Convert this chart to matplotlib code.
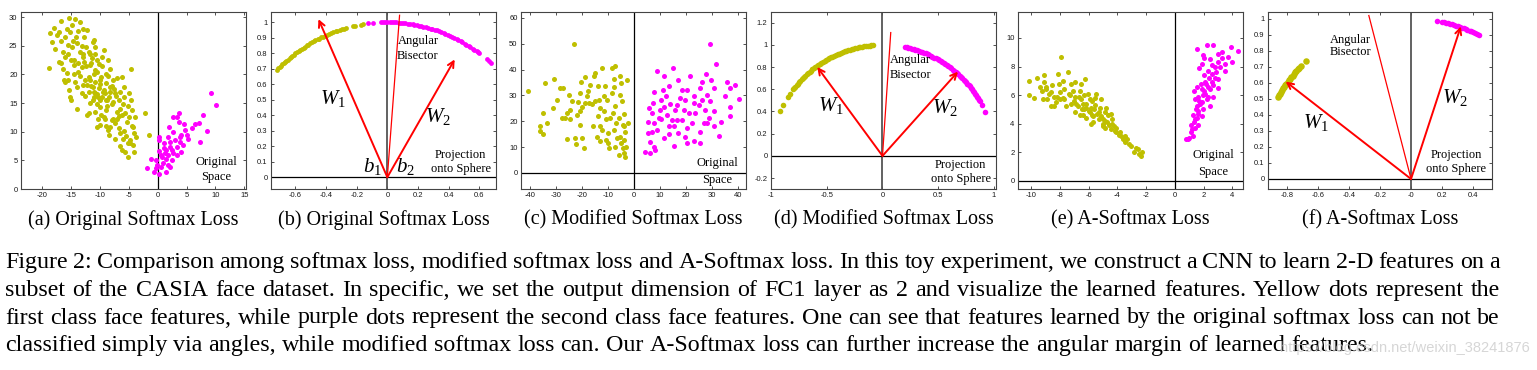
import matplotlib
matplotlib.use("Agg")
import matplotlib.pyplot as plt
import numpy as np
from matplotlib.ticker import FuncFormatter

plt.rcParams['mathtext.fontset'] = 'custom'
plt.rcParams['mathtext.it'] = 'Liberation Serif:italic'
plt.rcParams['mathtext.rm'] = 'Liberation Serif'

yellow = "#bfbf00"
magenta = "#ff00ff"
W, H = 1537, 370

# (a) original softmax, original space
a_yel_x = [-18.8,-18.7,-18.0,-18.4,-17.8,-16.8,-17.1,-16.7,-16.5,-17.1,-16.8,-16.2,-16.1,-15.3,-15.2,-14.9,-14.3,-13.5,-13.9,-14.2,
           -14.7,-14.9,-15.5,-15.1,-14.6,-15.3,-15.2,-15.1,-14.0,-14.3,-14.0,-13.2,-12.3,-12.4,-12.9,-13.2,-13.5,-12.6,-12.0,-12.3,
           -12.0,-11.3,-10.9,-11.4,-11.7,-10.9,-10.6,-11.3,-10.9,-10.3,-11.2,-10.6,-10.0,-10.3,-10.6,-9.4,-9.7,-10.0,-9.4,-9.7,
           -9.0,-8.9,-9.2,-8.6,-8.3,-8.6,-8.3,-7.7,-7.4,-8.0,-7.7,-8.3,-8.4,-7.1,-6.8,-6.5,-7.1,-6.8,-7.4,-6.2,
           -5.8,-5.9,-5.7,-5.4,-6.1,-6.2,-5.7,-5.1,-4.7,-4.9,-4.5,-3.9,-4.3,-4.2,-3.7,-4.8,-4.1,-2.2,-1.6,
           -11.0,-10.5,-10.0,-9.5,-11.5,-12.0,-9.0,-8.5,-10.0,-11.0,-12.5,-13.0,-13.5,-11.8,-10.2,-9.0,-8.0,-7.5,-6.0,-7.0,
           -8.0,-9.0,-5.0,-4.5,-6.5,-5.5,-4.8,-14.5,-13.8,-15.8,-16.0,-12.8,-11.0,-10.8,-12.2,-11.7,-10.8,-9.8,-8.8,-7.8,
           -16.0,-15.6,-14.0,-13.2,-12.0,-11.5,-12.8,-13.8,-10.5,-9.6,-9.8,-10.8,-11.8,-9.2,-10.2,-11.0,-12.6,-13.0,-8.2,-8.8,
           -7.2,-6.6,-6.2,-7.4,-5.2,-4.6,-6.8,-9.4,-10.0,-8.6,-5.8,-5.2,-6.5,-4.3,-15.5,-16.4,-14.6,-17.5,-15.8,-13.0]
a_yel_y = [21.2,27.3,28.1,25.7,24.5,29.3,27.4,25.9,24.0,22.2,22.0,19.0,18.7,29.9,27.4,28.6,29.7,29.1,27.6,26.5,
           25.8,24.8,23.6,22.6,21.6,17.2,16.1,15.5,14.0,18.7,17.8,16.7,27.7,24.8,23.6,21.3,19.8,19.0,19.6,12.9,
           13.2,25.6,24.8,22.8,21.6,20.7,22.5,17.8,16.7,16.1,15.5,14.9,14.3,12.3,10.9,24.2,23.1,18.4,17.2,16.1,
           15.5,13.8,12.3,22.5,21.0,19.7,17.8,19.0,16.7,14.9,12.3,10.9,9.4,19.3,15.5,14.0,12.3,10.6,8.8,19.6,
           17.8,16.1,13.2,11.7,8.8,6.8,6.5,5.6,20.9,16.7,13.8,12.6,10.9,9.7,9.1,8.0,6.5,13.3,9.4,
           17.0,16.5,15.5,17.0,18.0,17.0,18.5,16.0,19.0,20.0,21.5,23.0,24.0,23.5,21.8,20.0,18.0,17.5,14.8,13.5,
           12.0,11.0,12.5,11.0,9.8,9.3,8.5,22.5,20.5,20.2,23.0,26.5,26.0,23.5,18.2,15.0,13.5,13.0,14.5,15.2,
           26.5,25.2,25.5,25.0,24.0,22.0,22.2,22.0,20.5,21.5,19.6,18.6,19.0,16.8,17.6,16.0,16.2,18.2,17.0,15.6,
           16.2,17.0,13.0,11.6,14.5,15.5,12.8,12.6,11.2,10.3,10.2,8.0,7.5,7.6,19.0,21.0,20.0,26.8,28.0,28.0]
a_mag_x = [9.2,10.1,7.9,7.1,6.4,7.3,8.5,6.0,5.0,4.1,3.7,2.7,3.3,4.6,3.6,2.0,2.7,3.9,1.8,0.3,
           0.3,1.0,2.1,3.3,4.4,1.5,2.7,0.2,0.8,1.5,2.4,3.3,-1.1,-0.3,0.9,1.7,0.6,-0.3,-1.8,-0.6,
           0.3,1.5,-0.1,1.2,1.8,3.9,5.3,4.7,2.1,3.0,1.0,2.4,4.1,0.5,2.1]
a_mag_y = [16.8,14.6,12.9,11.5,11.4,8.2,10.1,10.7,9.4,9.4,13.2,12.6,12.6,11.4,11.7,10.9,10.0,9.1,9.1,9.1,
           8.5,8.0,7.4,7.4,7.7,6.8,6.2,6.7,5.6,5.3,5.0,5.9,5.3,5.0,4.5,4.2,3.9,3.6,3.6,3.0,
           2.7,3.0,4.2,6.2,5.9,8.2,8.8,10.3,8.2,8.5,7.1,6.8,6.5,5.9,3.9]

# (b) original softmax, projected onto the unit circle (angles in degrees)
b_yel_deg = [136.0,135.4,134.6,134.1,133.3,132.7,131.8,131.3,130.6,129.7,129.2,128.3,127.8,126.9,126.3,125.4,124.8,124.1,123.2,122.6,
             121.7,121.1,120.2,119.6,118.6,118.0,117.1,116.5,115.5,114.9,113.9,113.2,112.4,111.4,110.7,109.7,109.0,108.0,107.3,106.4,
             105.7,103.0,102.2,100.0,99.2]
b_mag_deg = [97.2,95.4,92.4,91.7,90.7,90.1,89.1,88.4,87.4,86.7,85.7,85.0,84.0,83.3,82.3,81.6,80.5,79.9,78.8,78.1,
             77.1,76.4,75.3,74.7,73.6,72.9,71.8,71.2,70.1,69.4,68.3,67.7,66.6,65.9,64.8,64.2,63.1,62.4,61.3,60.7,
             59.6,58.9,57.8,57.2,56.1,55.4,54.3,53.7,53.1,49.6,48.4,47.3]
b_w1 = (-0.45, 1.02)
b_w2 = (0.44, 0.76)
b_bis = (0.08, 1.045)

# (c) modified softmax, original space
c_yel_x = [-40.9,-34.2,-31.0,-36.4,-35.1,-36.1,-35.1,-33.6,-31.3,-29.7,-28.7,-27.4,-27.8,-26.5,-25.2,-25.9,-24.6,-24.6,-25.9,-23.0,
           -22.6,-22.3,-21.7,-22.0,-20.7,-20.5,-20.1,-21.0,-21.0,-20.1,-19.2,-18.8,-18.1,-17.5,-17.9,-16.8,-16.2,-15.6,-15.8,-14.9,
           -14.0,-13.6,-13.0,-14.0,-13.2,-14.3,-13.0,-11.1,-10.4,-11.4,-10.7,-10.2,-9.8,-10.2,-12.3,-8.5,-7.2,-7.8,-7.6,-8.5,
           -7.2,-8.1,-6.8,-7.8,-6.6,-7.2,-5.9,-5.3,-5.0,-5.5,-4.6,-4.0,-4.2,-3.7,-3.3,-3.7,-3.2,-4.0,-3.3,-2.7,
           -2.4,-5.9,-9.1,-12.3,-10.7,-5.3,-5.0,-4.2,-18.8,-14.9,-11.7,-23.9]
c_yel_y = [31.9,35.0,36.3,18.2,23.4,16.4,15.0,19.5,25.1,28.3,32.8,32.8,21.2,21.2,30.3,23.1,24.4,20.8,13.1,50.0,
           13.4,11.2,27.3,22.5,30.9,35.4,25.7,23.8,18.6,13.4,9.6,37.1,29.6,27.0,31.9,34.1,26.8,37.6,18.0,38.8,
           33.6,28.3,25.1,21.9,18.2,14.1,12.2,33.8,28.3,23.8,20.8,15.4,9.6,11.5,40.6,40.6,41.3,36.3,33.2,30.9,
           26.0,23.1,19.5,16.7,13.4,10.2,7.0,37.4,34.8,30.3,27.7,22.9,18.6,18.2,16.0,12.8,10.2,7.6,6.3,36.1,
           19.3,21.2,21.2,16.7,12.8,13.8,11.5,9.6,27.0,27.7,29.6,27.7]
c_mag_x = [29.2,31.8,40.6,39.1,37.2,35.9,35.2,37.2,36.9,33.6,32.6,30.7,29.7,27.9,26.2,25.6,26.2,28.2,29.5,27.5,
           28.8,26.9,25.6,23.7,23.3,21.7,20.5,19.8,21.1,22.4,20.5,18.5,17.9,16.8,16.0,16.6,15.3,17.0,15.0,13.4,
           12.5,13.8,12.7,13.4,13.4,15.3,11.4,11.2,10.4,9.9,10.4,11.4,8.9,7.6,7.3,6.9,7.6,6.9,7.8,8.2,
           5.7,5.3,5.3,6.0,4.4,6.3,8.9,9.5,16.6,19.2,23.0,24.9,30.7,25.6,20.5,23.0,28.2,30.7,18.5,19.8,
           14.7,11.4]
c_mag_y = [50.0,42.3,28.6,34.1,32.8,35.4,29.6,25.7,22.1,19.9,14.4,32.8,36.1,38.4,35.4,32.8,28.3,30.3,27.7,24.4,
           21.2,19.3,16.0,23.1,27.0,37.4,32.2,28.3,23.1,19.3,17.3,32.2,29.0,36.1,24.4,20.6,18.2,15.6,40.6,33.5,
           29.6,26.8,22.5,18.0,15.1,10.5,37.4,32.2,28.3,24.4,20.8,13.4,39.3,31.2,27.0,23.1,19.3,16.0,10.2,8.9,
           25.1,19.9,15.4,11.8,8.3,7.6,16.7,21.2,26.4,24.4,29.6,26.4,23.8,11.5,11.5,12.2,19.3,18.0,20.6,14.1,
           20.6,25.7]

# (d) modified softmax, projected
d_yel_deg = [156.2,152.9,147.9,146.1,143.3,142.2,141.4,140.3,139.5,138.4,137.6,136.5,135.7,134.6,133.8,132.7,131.9,130.8,130.0,128.9,
             128.1,127.0,126.2,125.1,124.3,123.2,122.4,121.3,120.5,119.4,118.6,117.5,116.7,115.6,114.8,113.7,112.9,111.8,111.0,109.9,
             109.1,108.0,107.2,106.1,105.3,104.2,103.4,102.3,101.5,100.4,99.6,98.5,97.7,96.6,95.8,94.7]
d_mag_deg = [78.5,77.5,76.7,75.6,74.8,73.7,72.9,71.8,71.0,69.9,69.1,68.0,67.2,66.1,65.3,64.2,63.4,62.3,61.5,60.4,
             59.6,58.5,57.7,56.6,55.8,54.7,53.9,52.8,52.0,50.9,50.1,49.0,48.2,47.1,46.3,45.2,44.4,43.3,42.5,41.4,
             40.6,39.5,38.7,37.6,36.8,35.7,34.9,33.8,33.0,31.9,31.1,30.2,29.4,27.1,23.1]
d_w1 = (-0.585, 0.80)
d_w2 = (0.677, 0.758)
d_bis = (0.074, 1.11)

# (e) A-Softmax, original space
e_yel_x = [-10.13,-10.18,-9.83,-9.62,-9.43,-9.13,-9.09,-9.27,-8.97,-9.20,-8.90,-8.74,-8.57,-8.39,-8.43,-8.15,-8.04,-7.92,-7.80,-7.69,
           -7.97,-7.57,-7.45,-7.22,-7.34,-6.99,-6.94,-6.99,-6.87,-6.64,-6.57,-6.48,-6.34,-6.17,-6.17,-6.06,-5.94,-5.87,-5.78,-5.71,
           -5.59,-5.54,-5.40,-5.31,-5.24,-5.12,-5.01,-4.89,-4.85,-4.66,-4.61,-4.47,-4.38,-4.24,-4.08,-3.91,-3.73,-3.61,-3.45,-3.21,
           -3.03,-2.84,-2.68,-2.52,-2.33,-2.28,-6.52,-6.29,-5.47,-5.12,-4.77,-4.47,-6.76,-6.41,-5.82,-7.22,-7.69,-8.62,-8.27,-6.0,
           -5.7,-6.3,-5.0,-4.2,-3.6,
           -9.0,-8.6,-8.2,-7.8,-7.4,-7.0,-6.7,-6.2,-5.9,-5.6,-5.3,-5.0,-4.7,-4.4,-4.1,-3.8,-3.5,-6.6,-7.1,-8.0,
           -6.4,-5.8,-4.9,-3.3,-2.6]
e_yel_y = [7.0,6.0,5.8,7.2,6.6,6.9,7.4,6.3,6.6,5.7,5.7,6.1,6.7,5.9,5.2,7.5,6.8,8.67,7.0,6.4,
           5.7,5.2,7.6,6.8,6.0,6.9,5.9,4.8,5.4,6.3,5.7,5.0,6.0,5.4,4.4,6.1,5.7,5.1,4.6,4.1,
           5.8,5.3,4.7,4.3,5.1,4.5,3.8,4.8,4.2,4.6,3.9,3.6,4.3,3.8,3.4,3.2,3.1,2.9,2.7,2.6,
           2.4,2.0,2.3,1.9,1.7,2.0,6.8,7.1,6.1,5.7,5.1,4.7,5.2,4.6,4.0,5.4,5.7,5.2,5.5,4.9,
           4.5,5.0,4.0,3.5,3.0,
           6.4,6.2,5.9,5.8,6.1,5.6,5.9,5.1,4.8,5.0,4.8,4.3,4.1,4.0,3.7,3.4,3.1,4.6,6.3,6.2,
           5.4,5.6,3.7,2.9,2.2]
e_mag_x = [0.75,0.93,1.12,1.28,1.16,1.35,1.51,1.28,1.58,1.40,1.63,1.51,1.86,1.75,1.98,1.86,2.21,2.10,1.68,1.86,
           1.51,2.21,2.68,1.98,2.45,2.33,2.56,2.45,2.68,2.45,2.80,3.03,3.14,3.26,3.49,3.68,3.91,4.38,3.96,3.49,
           3.03,3.03,2.10,2.03,1.35,2.33,1.51,1.98,1.63,1.40,2.68,2.56,
           1.0,1.2,1.4,1.6,1.7,1.9,2.0,2.2,2.4,2.6,2.8,3.0,1.8,2.3,1.5,2.9,3.3,2.0]
e_mag_y = [2.93,2.9,3.4,3.1,3.9,4.1,4.4,4.6,4.9,5.7,5.9,6.6,6.4,5.4,5.0,4.5,5.7,6.9,7.9,8.2,
           9.2,9.5,9.5,8.8,8.5,7.7,6.9,6.4,5.9,5.2,7.2,8.9,8.0,8.6,8.2,8.7,9.4,9.1,8.3,7.7,
           7.1,6.5,6.1,7.4,6.3,6.6,5.2,6.0,3.9,3.7,6.7,8.1,
           3.0,3.6,4.3,4.7,5.6,5.5,6.3,6.8,7.2,7.5,8.0,8.3,6.8,5.9,5.0,7.6,9.0,8.6]

# (f) A-Softmax, projected
f_yel_deg = [149.3,148.5,147.9,147.0,146.4,145.6,144.9,144.1,143.5,142.7,142.0,141.2,140.6,139.8,139.1,138.3,137.7,136.9,136.2,135.4,132.8]
f_mag_deg = [80.2,78.5,77.7,77.0,76.1,75.5,74.6,73.9,73.1,72.5,71.6,70.9,70.2,69.4,68.7,67.8,67.1,66.4,65.5,64.7,63.9]
f_w1 = (-0.808, 0.608)
f_w2 = (0.321, 0.952)
f_bis = (-0.272, 1.02)

titles = ["(a) Original Softmax Loss", "(b) Original Softmax Loss", "(c) Modified Softmax Loss",
          "(d) Modified Softmax Loss", "(e) A-Softmax Loss", "(f) A-Softmax Loss"]

caption = [
    "Figure 2: Comparison among softmax loss, modified softmax loss and A-Softmax loss. In this toy experiment, we construct a CNN to learn 2-D features on a",
    "subset of the CASIA face dataset. In specific, we set the output dimension of FC1 layer as 2 and visualize the learned features. Yellow dots represent the",
    "first class face features, while purple dots represent the second class face features. One can see that features learned by the original softmax loss can not be",
    "classified simply via angles, while modified softmax loss can. Our A-Softmax loss can further increase the angular margin of learned features.",
]

fig = plt.figure(figsize=(W / 100, H / 100), dpi=100)

boxes = [(21, 246), (271, 496), (521, 746), (771, 996), (1018, 1243), (1268, 1492)]
top, bottom = 12, 189

fmt = FuncFormatter(lambda v, p: ("%g" % round(v, 3)).replace("\u2212", "-"))


def make_ax(i, xlim, ylim, xticks, yticks):
    l, r = boxes[i]
    ax = fig.add_axes([l / W, 1 - bottom / H, (r - l) / W, (bottom - top) / H])
    ax.set_xlim(xlim)
    ax.set_ylim(ylim)
    ax.set_xticks(xticks)
    ax.set_yticks(yticks)
    ax.xaxis.set_major_formatter(fmt)
    ax.yaxis.set_major_formatter(fmt)
    ax.tick_params(direction='in', length=2.5, width=0.6, top=True, right=True,
                   labelsize=5.5, pad=2.5, colors='#333333', labelcolor='#1a1a1a')
    for lab in ax.get_xticklabels() + ax.get_yticklabels():
        lab.set_family('Liberation Sans')
    for s in ax.spines.values():
        s.set_color('#444444')
        s.set_linewidth(0.8)
    ax.text(0.5, -0.175, titles[i], transform=ax.transAxes, ha='center', va='center',
            fontsize=14.5, family='Liberation Serif')
    return ax


def serif(ax, x, y, s, size=9):
    ax.text(x, y, s, ha='center', va='center', fontsize=size, family='Liberation Serif', zorder=5)


def arrows(ax, w1, w2, bis):
    for tip in (w1, w2):
        ax.annotate('', xy=tip, xytext=(0, 0),
                    arrowprops=dict(arrowstyle='->', color='red', lw=1.4, mutation_scale=11,
                                    shrinkA=0, shrinkB=0), zorder=4)
    ax.plot([0, bis[0]], [0, bis[1]], color='red', lw=0.9, zorder=4)


def arc(ax, deg, color, s=12):
    t = np.radians(deg)
    ax.scatter(np.cos(t), np.sin(t), s=s, color=color, linewidths=0, zorder=3)


# (a)
ax = make_ax(0, (-23.7, 15.3), (0, 30.9), range(-20, 16, 5), range(0, 31, 5))
ax.axvline(0, color='black', lw=0.9)
ax.scatter(a_yel_x, a_yel_y, s=13, color=yellow, linewidths=0, zorder=3)
ax.scatter(a_mag_x, a_mag_y, s=13, color=magenta, linewidths=0, zorder=3)
serif(ax, 10.2, 4.75, "Original")
serif(ax, 10.2, 2.1, "Space")

# (b)
ax = make_ax(1, (-0.76, 0.71), (-0.076, 1.066), np.arange(-0.6, 0.61, 0.2), np.arange(0, 1.01, 0.1))
ax.axvline(0, color='#555555', lw=1.3)
ax.axhline(0, color='black', lw=0.9)
arc(ax, b_yel_deg, yellow)
arc(ax, b_mag_deg, magenta)
arrows(ax, b_w1, b_w2, b_bis)
serif(ax, -0.355, 0.51, r'$\mathit{W_1}$', 15)
serif(ax, 0.33, 0.39, r'$\mathit{W_2}$', 15)
serif(ax, -0.1, 0.07, r'$\mathit{b_1}$', 15)
serif(ax, 0.117, 0.07, r'$\mathit{b_2}$', 15)
serif(ax, 0.2, 0.88, "Angular")
serif(ax, 0.2, 0.785, "Bisector")
serif(ax, 0.48, 0.145, "Projection")
serif(ax, 0.48, 0.05, "onto Sphere")

# (c)
ax = make_ax(2, (-43.6, 43.2), (-6.2, 62.3), range(-40, 41, 10), range(0, 61, 10))
ax.axvline(0, color='black', lw=0.9)
ax.axhline(0, color='black', lw=0.9)
ax.scatter(c_yel_x, c_yel_y, s=13, color=yellow, linewidths=0, zorder=3)
ax.scatter(c_mag_x, c_mag_y, s=13, color=magenta, linewidths=0, zorder=3)
serif(ax, 32, 3.7, "Original")
serif(ax, 32, -2.8, "Space")

# (d)
ax = make_ax(3, (-0.99, 1.018), (-0.298, 1.295), [-1, -0.5, 0, 0.5, 1], np.arange(-0.2, 1.21, 0.2))
ax.axvline(0, color='#555555', lw=1.3)
ax.axhline(0, color='black', lw=0.9)
arc(ax, d_yel_deg, yellow, 16)
arc(ax, d_mag_deg, magenta, 16)
arrows(ax, d_w1, d_w2, d_bis)
serif(ax, -0.46, 0.45, r'$\mathit{W_1}$', 15)
serif(ax, 0.56, 0.44, r'$\mathit{W_2}$', 15)
serif(ax, 0.25, 0.86, "Angular")
serif(ax, 0.25, 0.73, "Bisector")
serif(ax, 0.7, -0.08, "Projection")
serif(ax, 0.7, -0.205, "onto Sphere")

# (e)
ax = make_ax(4, (-10.93, 4.75), (-0.58, 11.82), range(-10, 5, 2), range(0, 11, 2))
ax.axvline(0, color='black', lw=0.9)
ax.axhline(0, color='black', lw=0.9)
ax.scatter(e_yel_x, e_yel_y, s=13, color=yellow, linewidths=0, zorder=3)
ax.scatter(e_mag_x, e_mag_y, s=13, color=magenta, linewidths=0, zorder=3)
serif(ax, 2.67, 1.8, "Original")
serif(ax, 2.67, 0.63, "Space")

# (f)
ax = make_ax(5, (-0.922, 0.522), (-0.0625, 1.042), np.arange(-0.8, 0.41, 0.2), np.arange(0, 1.01, 0.1))
ax.axvline(0, color='#555555', lw=1.3)
ax.axhline(0, color='black', lw=0.9)
arc(ax, f_yel_deg, yellow, 22)
arc(ax, f_mag_deg, magenta, 16)
arrows(ax, f_w1, f_w2, f_bis)
serif(ax, -0.61, 0.35, r'$\mathit{W_1}$', 15)
serif(ax, 0.28, 0.51, r'$\mathit{W_2}$', 15)
serif(ax, -0.39, 0.87, "Angular")
serif(ax, -0.39, 0.79, "Bisector")
serif(ax, 0.29, 0.15, "Projection")
serif(ax, 0.29, 0.06, "onto Sphere")

# caption, justified like the paper
r = fig.canvas.get_renderer()
probe = fig.text(0, 0, caption[3], fontsize=10, family='Liberation Serif')
size = 10 * 1365 / probe.get_window_extent(r).width
probe.remove()
sp1 = fig.text(0, 0, "a a", fontsize=size, family='Liberation Serif')
sp2 = fig.text(0, 0, "aa", fontsize=size, family='Liberation Serif')
space = sp1.get_window_extent(r).width - sp2.get_window_extent(r).width
sp1.remove()
sp2.remove()

x0, x1 = 5, 1500
baselines = [268, 296, 323.5, 351]
for k, line in enumerate(caption):
    words = line.split(' ')
    txts = [fig.text(0, 1 - baselines[k] / H, w, fontsize=size, family='Liberation Serif',
                     va='baseline', ha='left') for w in words]
    widths = [t.get_window_extent(r).width for t in txts]
    gap = (x1 - x0 - sum(widths)) / (len(words) - 1) if k < 3 else space
    x = x0
    for t, wd in zip(txts, widths):
        t.set_x(x / W)
        x += wd + gap

# faint blog watermark lying over the last caption line, as in the source image
fig.text(1530 / W, 1 - 352 / H, "https://blog.csdn.net/weixin_38241876", fontsize=10.5,
         family='Liberation Sans', color='#cccccc', alpha=0.8, ha='right', va='baseline')

fig.savefig("out.png", dpi=100)
